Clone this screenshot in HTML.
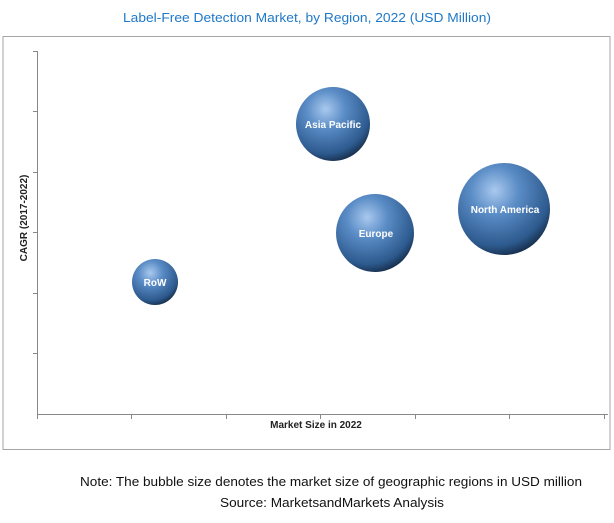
<!DOCTYPE html>
<html><head><style>
body{margin:0;width:614px;height:518px;background:#fff;overflow:hidden;font-family:"Liberation Sans",sans-serif}
</style></head><body>
<svg width="614" height="518" viewBox="0 0 614 518">
<defs>
<radialGradient id="g" cx="0.4" cy="0.3" r="0.75">
<stop offset="0" stop-color="#a9c9ee"/>
<stop offset="0.35" stop-color="#5a8cc6"/>
<stop offset="0.8" stop-color="#2d5a8e"/>
<stop offset="1" stop-color="#12263f"/>
</radialGradient>
</defs>
<text x="307" y="22" text-anchor="middle" font-size="13" fill="#1f78c8" textLength="368" lengthAdjust="spacingAndGlyphs">Label-Free Detection Market, by Region, 2022 (USD Million)</text>
<rect x="3" y="36.5" width="607" height="413" fill="none" stroke="#a6a6a6" stroke-width="1"/>
<g stroke="#888" stroke-width="1">
<line x1="37.5" y1="51" x2="37.5" y2="414"/>
<line x1="37" y1="414.5" x2="608" y2="414.5"/>
<line x1="33" y1="51.5" x2="37" y2="51.5"/>
<line x1="33" y1="111.5" x2="37" y2="111.5"/>
<line x1="33" y1="172.5" x2="37" y2="172.5"/>
<line x1="33" y1="232.5" x2="37" y2="232.5"/>
<line x1="33" y1="293.5" x2="37" y2="293.5"/>
<line x1="33" y1="353.5" x2="37" y2="353.5"/>
<line x1="37.5" y1="414" x2="37.5" y2="419"/>
<line x1="131.5" y1="414" x2="131.5" y2="419"/>
<line x1="226.5" y1="414" x2="226.5" y2="419"/>
<line x1="320.5" y1="414" x2="320.5" y2="419"/>
<line x1="415.5" y1="414" x2="415.5" y2="419"/>
<line x1="509.5" y1="414" x2="509.5" y2="419"/>
<line x1="604.5" y1="414" x2="604.5" y2="419"/>
</g>
<text transform="translate(27,218) rotate(-90)" text-anchor="middle" font-size="10" font-weight="bold" fill="#222">CAGR (2017-2022)</text>
<text x="316" y="428" text-anchor="middle" font-size="10" font-weight="bold" fill="#222">Market Size in 2022</text>
<circle cx="333" cy="124" r="37" fill="url(#g)"/>
<circle cx="375" cy="233" r="39" fill="url(#g)"/>
<circle cx="504" cy="209" r="46" fill="url(#g)"/>
<circle cx="155" cy="282" r="23" fill="url(#g)"/>
<g fill="#fff" font-size="10" font-weight="bold" text-anchor="middle">
<text x="333" y="128">Asia Pacific</text>
<text x="376" y="237">Europe</text>
<text x="505" y="213">North America</text>
<text x="155" y="286">RoW</text>
</g>
<text x="331" y="486" text-anchor="middle" font-size="13" fill="#111" textLength="502" lengthAdjust="spacingAndGlyphs">Note: The bubble size denotes the market size of geographic regions in USD million</text>
<text x="332" y="507" text-anchor="middle" font-size="13" fill="#111" textLength="224" lengthAdjust="spacingAndGlyphs">Source: MarketsandMarkets Analysis</text>
</svg>
</body></html>
